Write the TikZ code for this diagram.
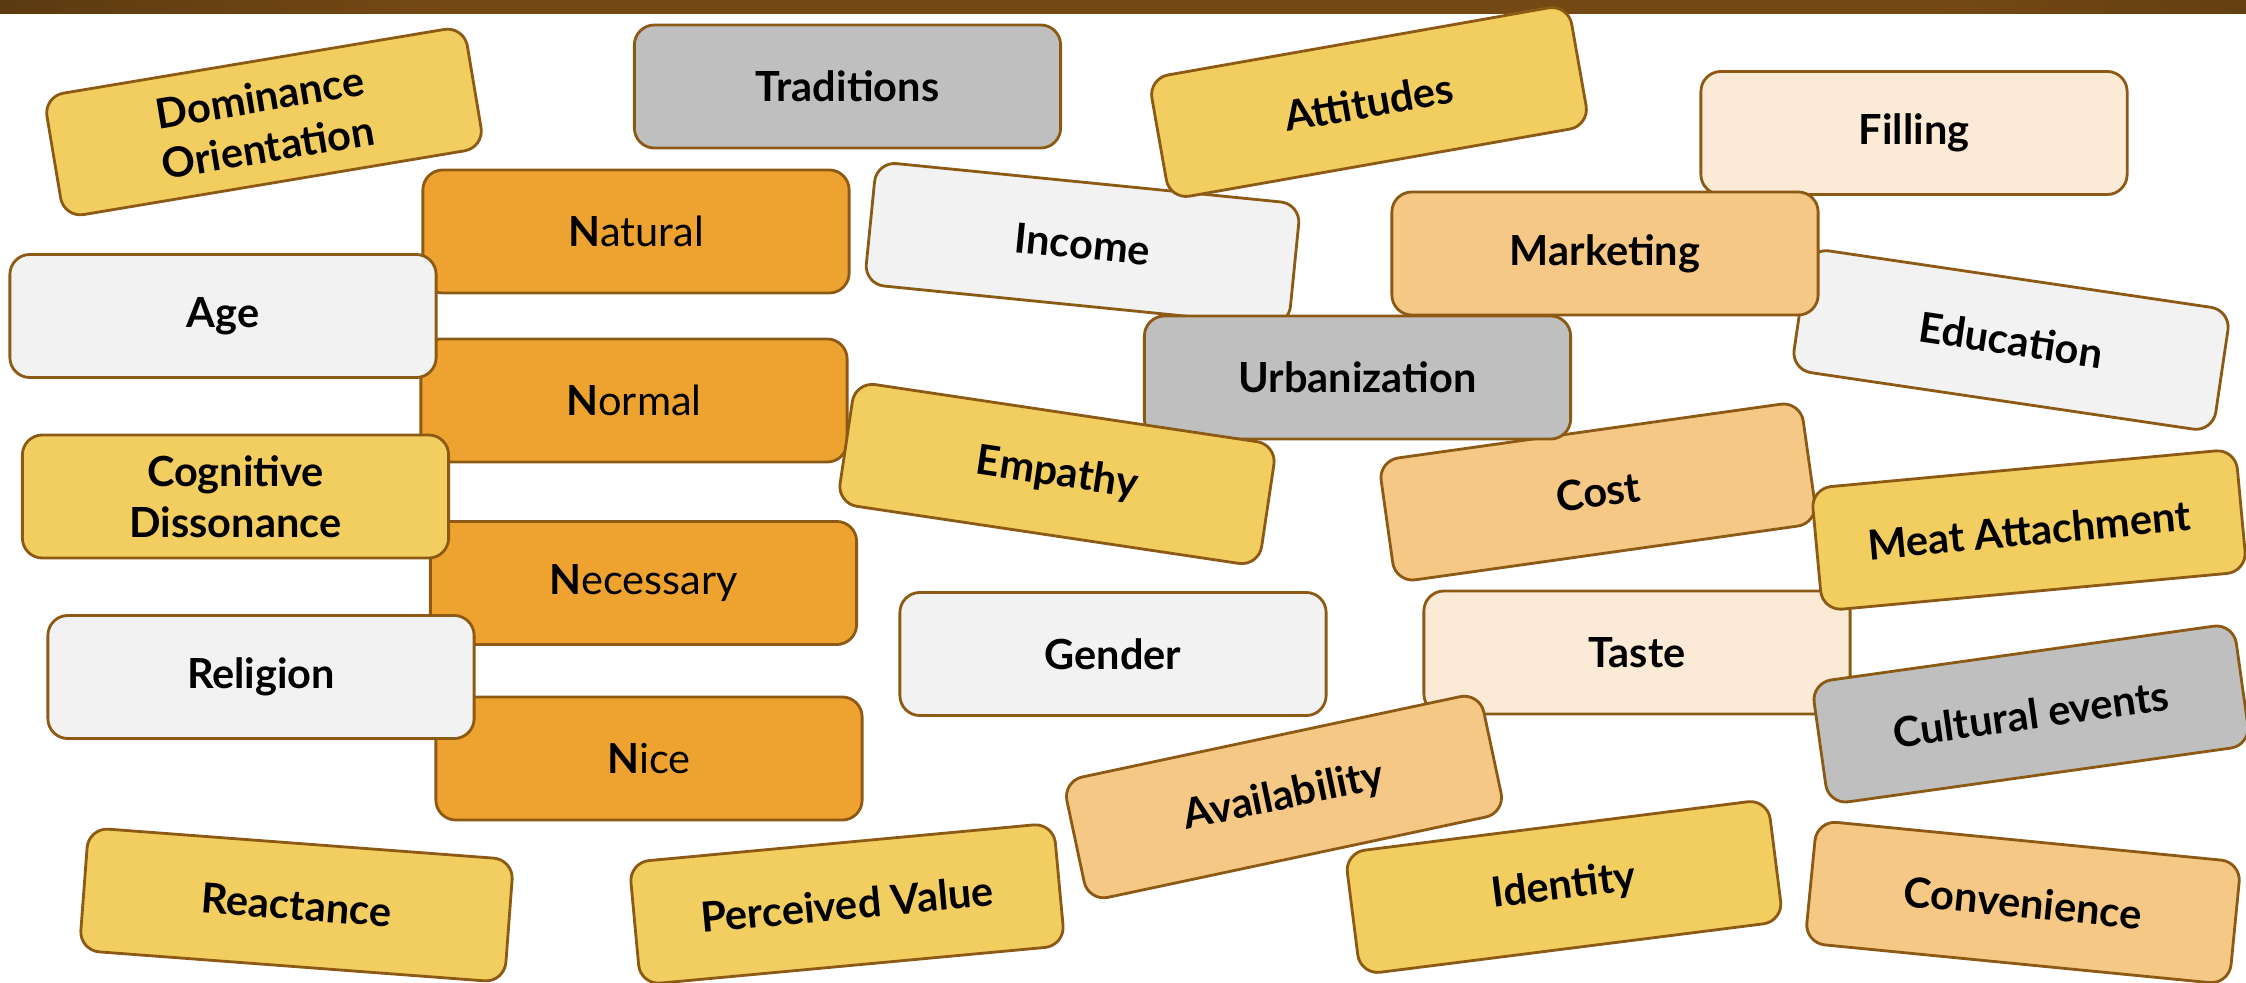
\documentclass[tikz,border=0pt]{standalone}
\usepackage{fontspec}
\setmainfont{Lato}
\definecolor{yel}{HTML}{F2CD60}
\definecolor{org}{HTML}{EEA330}
\definecolor{lor}{HTML}{F5C886}
\definecolor{crm}{HTML}{FBEAD5}
\definecolor{lgr}{HTML}{F2F2F2}
\definecolor{gry}{HTML}{BFBFBF}
\definecolor{brd}{HTML}{8C5A14}
\definecolor{barL}{HTML}{1E150B}
\definecolor{barM}{HTML}{744913}
\definecolor{barR}{HTML}{2A1B0A}
\pgfdeclarehorizontalshading{barshade}{100bp}{color(0bp)=(barL); color(35bp)=(barM); color(68bp)=(barM); color(100bp)=(barR)}
\tikzset{
  card/.style={rectangle, rounded corners=0.2cm, minimum width=4.26cm, minimum height=1.23cm,
    draw=brd, line width=0.8pt, inner sep=0pt, align=center,
    font=\fontsize{11.8pt}{14.4pt}\selectfont\bfseries},
  ncard/.style={card, fill=org, font=\fontsize{11.8pt}{14.4pt}\selectfont},
  ycard/.style={card, fill=yel},
  ocard/.style={card, fill=lor},
  ccard/.style={card, fill=crm},
  wcard/.style={card, fill=lgr},
  gcard/.style={card, fill=gry}
}
\begin{document}
\begin{tikzpicture}[x=0.01cm, y=-0.01cm]
\fill[white] (0,0) rectangle (2246,982);
\useasboundingbox (0,0) rectangle (2246,982);
\shade[shading=barshade] (0,0) rectangle (2246,14);
% lower layer
\node[gcard] (traditions) at (847.5,86.5) {Traditions};
\node[ncard] (natural) at (636,231.5) {\textbf{N}atural};
\node[ncard] (normal) at (634,400.5) {\textbf{N}ormal};
\node[ncard] (necessary) at (643.5,583) {\textbf{N}ecessary};
\node[ncard] (nice) at (649,758.5) {\textbf{N}ice};
\node[ccard] (filling) at (1914,133) {Filling};
\node[wcard, rotate=-8.4] (education) at (2011,340) {Education};
\node[wcard, rotate=-5.7] (income) at (1082.5,244) {Income};
\node[ccard] (taste) at (1637,652.5) {Taste};
\node[ocard, rotate=8] (cost) at (1598,492) {Cost};
\node[wcard] (gender) at (1113,654) {Gender};
% upper layer
\node[wcard] (age) at (223,316) {Age};
\node[ycard] (cognitive) at (235.5,496.5) {Cognitive\\Dissonance};
\node[wcard] (religion) at (261,677) {Religion};
\node[ycard, rotate=9.5] (dominance) at (264,122) {Dominance\\Orientation};
\node[ycard, rotate=10] (attitudes) at (1369,102) {Attitudes};
\node[ocard] (marketing) at (1605,253.5) {Marketing};
\node[gcard] (urbanization) at (1357.5,377.5) {Urbanization};
\node[ycard, rotate=-8.5] (empathy) at (1057,474) {Empathy};
\node[ycard, rotate=5.3] (meat) at (2029,530) {Meat Attachment};
\node[gcard, rotate=8] (cultural) at (2031,714) {Cultural events};
\node[ocard, rotate=12] (availability) at (1284,797) {Availability};
\node[ycard, rotate=7.2] (identity) at (1564,887) {Identity};
\node[ycard, rotate=-4.3] (reactance) at (296.5,905) {Reactance};
\node[ycard, rotate=5.3] (perceived) at (847,904) {Perceived Value};
\node[ocard, rotate=-5.6] (convenience) at (2023,902.5) {Convenience};
\end{tikzpicture}
\end{document}
